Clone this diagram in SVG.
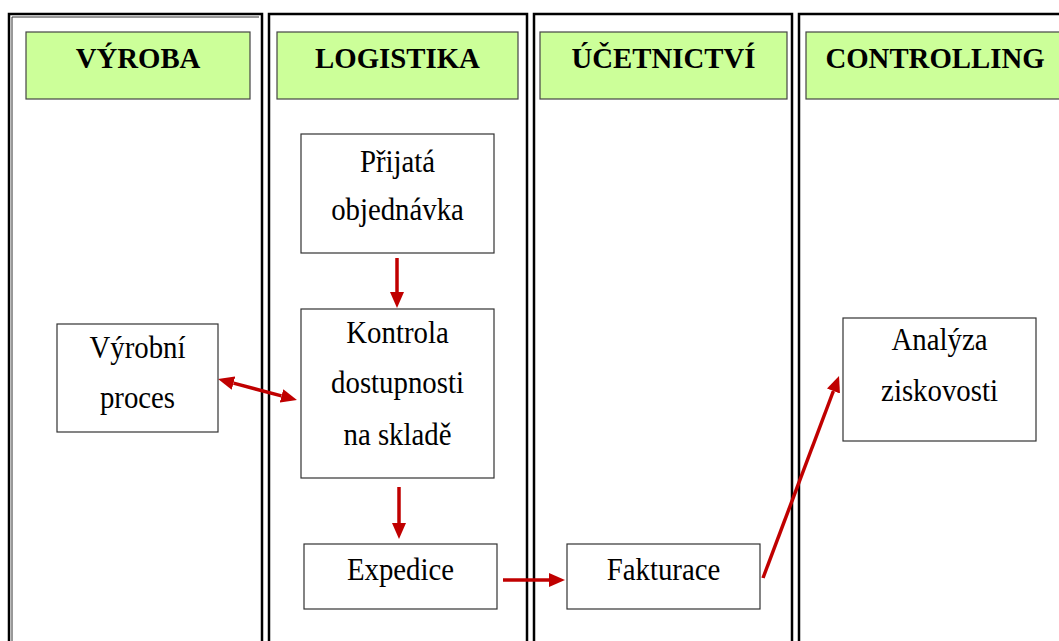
<svg xmlns="http://www.w3.org/2000/svg" width="1059" height="641" viewBox="0 0 1059 641">
  <style>
    .lane { fill: none; stroke: #000; stroke-width: 2.5; }
    .lane-in { fill: none; stroke: #333; stroke-width: 1; }
    .hdr { fill: #CCFF99; stroke: #444; stroke-width: 1.2; }
    .hdr-t { font-family: "Liberation Serif", "Times New Roman", serif; font-weight: bold; font-size: 30px; fill: #000; text-anchor: middle; }
    .box { fill: #fff; stroke: #333; stroke-width: 1.2; }
    .t { font-family: "Liberation Serif", "Times New Roman", serif; font-size: 32px; fill: #000; text-anchor: middle; }
    .arr { fill: none; stroke: #C00000; stroke-width: 3.5; }
  </style>
  <defs>
    <marker id="ah" markerUnits="userSpaceOnUse" markerWidth="16" markerHeight="14" refX="0" refY="7" orient="auto-start-reverse" viewBox="0 0 16 14">
      <path d="M0,0 L16,7 L0,14 z" fill="#C00000"/>
    </marker>
  </defs>
  <rect width="1059" height="641" fill="#fff"/>

  <g id="lanes">
    <g id="lane-vyroba">
      <rect class="lane" x="9" y="14" width="253" height="640"/>
      <path class="lane-in" d="M12,660 V17 H259"/>
    </g>
    <g id="lane-logistika">
      <rect class="lane" x="269" y="14" width="258" height="640"/>
    </g>
    <g id="lane-ucetnictvi">
      <rect class="lane" x="534" y="14" width="258" height="640"/>
    </g>
    <g id="lane-controlling">
      <rect class="lane" x="799" y="14" width="280" height="640"/>
    </g>
  </g>

  <g id="hdr-vyroba">
    <rect class="hdr" x="26" y="32" width="224" height="67"/>
    <text class="hdr-t" transform="translate(138 68) scale(0.96 1)">VÝROBA</text>
  </g>
  <g id="hdr-logistika">
    <rect class="hdr" x="277" y="32" width="241" height="67"/>
    <text class="hdr-t" transform="translate(397.5 68) scale(0.96 1)">LOGISTIKA</text>
  </g>
  <g id="hdr-ucetnictvi">
    <rect class="hdr" x="540" y="32" width="247" height="67"/>
    <text class="hdr-t" transform="translate(663.5 68) scale(0.96 1)">ÚČETNICTVÍ</text>
  </g>
  <g id="hdr-controlling">
    <rect class="hdr" x="806" y="32" width="270" height="67"/>
    <text class="hdr-t" transform="translate(935 68) scale(0.96 1)">CONTROLLING</text>
  </g>

  <g id="connectors">
    <line class="arr" x1="397" y1="258" x2="397" y2="292" marker-end="url(#ah)"/>
    <line class="arr" x1="399" y1="487" x2="399" y2="523" marker-end="url(#ah)"/>
    <line class="arr" x1="233.5" y1="383.1" x2="281.5" y2="395.9" marker-start="url(#ah)" marker-end="url(#ah)"/>
    <line class="arr" x1="503" y1="580" x2="549" y2="580" marker-end="url(#ah)"/>
    <line class="arr" x1="763" y1="578" x2="833.4" y2="391" marker-end="url(#ah)"/>
  </g>

  <g id="n-prijata">
    <rect class="box" x="301" y="134" width="193" height="119"/>
    <text class="t" transform="translate(397.5 172) scale(0.9 1)">Přijatá</text>
    <text class="t" transform="translate(397.5 220) scale(0.9 1)">objednávka</text>
  </g>
  <g id="n-kontrola">
    <rect class="box" x="301" y="309" width="193" height="169"/>
    <text class="t" transform="translate(397.5 343) scale(0.9 1)">Kontrola</text>
    <text class="t" transform="translate(397.5 393) scale(0.9 1)">dostupnosti</text>
    <text class="t" transform="translate(397.5 445) scale(0.9 1)">na skladě</text>
  </g>
  <g id="n-vyrobni">
    <rect class="box" x="57" y="324" width="161" height="108"/>
    <text class="t" transform="translate(137.5 358) scale(0.9 1)">Výrobní</text>
    <text class="t" transform="translate(137.5 408) scale(0.9 1)">proces</text>
  </g>
  <g id="n-expedice">
    <rect class="box" x="304" y="544" width="193" height="65"/>
    <text class="t" transform="translate(400.5 580) scale(0.9 1)">Expedice</text>
  </g>
  <g id="n-fakturace">
    <rect class="box" x="567" y="544" width="193" height="65"/>
    <text class="t" transform="translate(663.5 580) scale(0.9 1)">Fakturace</text>
  </g>
  <g id="n-analyza">
    <rect class="box" x="843" y="318" width="193" height="123"/>
    <text class="t" transform="translate(939.5 350) scale(0.9 1)">Analýza</text>
    <text class="t" transform="translate(939.5 401) scale(0.9 1)">ziskovosti</text>
  </g>
</svg>
